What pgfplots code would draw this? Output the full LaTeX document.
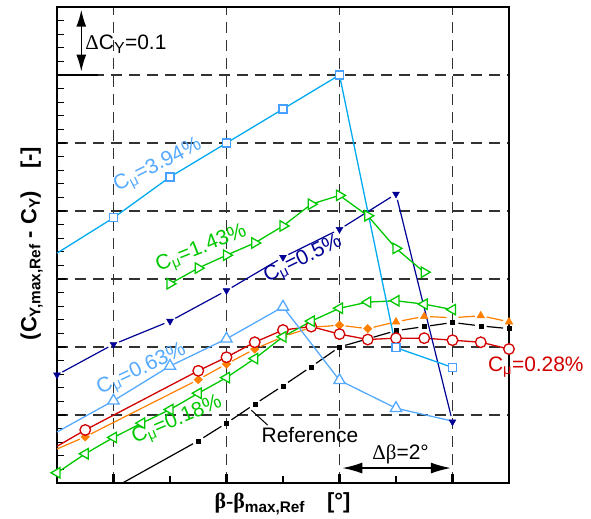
\documentclass[border=0pt]{standalone}
\usepackage{pgfplots}
\pgfplotsset{compat=1.18}
\usepackage{fontspec}
\setmainfont{Liberation Sans}
\newfontfamily\symf{Liberation Serif}
\usetikzlibrary{arrows.meta}
\definecolor{cblue}{RGB}{0,170,240}
\definecolor{cbluem}{RGB}{70,160,255}
\definecolor{lblue}{RGB}{85,170,255}
\definecolor{cgreen}{RGB}{0,200,0}
\definecolor{cnavy}{RGB}{0,0,150}
\definecolor{cred}{RGB}{210,0,0}
\definecolor{corange}{RGB}{255,128,0}
\definecolor{cgrid}{RGB}{50,50,50}
\newcommand{\lbl}{\fontsize{21}{25}\selectfont}
\newcommand{\axl}{\fontsize{22}{26}\selectfont\bfseries}
\newcommand{\sub}[1]{\textsubscript{#1}}
\newcommand{\seg}[3]{\addplot[#1] coordinates {#2 #3};}
\begin{document}
\begin{tikzpicture}
\begin{axis}[
  at={(0,0)}, anchor=south west,
  scale only axis, width=452bp, height=476bp,
  xmin=-5, xmax=3, ymin=0, ymax=0.7,
  xtick={-4,-2,0,2}, minor xtick={-3,-1,1},
  ytick={0,0.1,...,0.7}, minor y tick num=4,
  xticklabels={}, yticklabels={},
  tick pos=left, tick align=inside,
  clip=false,
  axis line style={line width=2.2bp},
  grid=major,
  major grid style={cgrid, line width=1.1bp, dash pattern=on 11bp off 7bp},
  major tick length=9bp, minor tick length=7bp,
  major tick style={black, line width=2.2bp},
  minor tick style={black, line width=1.3bp},
  gapk/.style={line width=1.2bp, shorten <=6bp, shorten >=6bp},
]
% Reference (black)
\addplot[black, line width=1.2bp, shorten >=6bp] coordinates {(-3.84,0) (-2.5,0.062)};
\seg{black,gapk}{(-2.5,0.062)}{(-2,0.088)}
\seg{black,gapk}{(-2,0.088)}{(-1.5,0.116)}
\seg{black,gapk}{(-1.5,0.116)}{(-1,0.143)}
\seg{black,gapk}{(-1,0.143)}{(-0.5,0.171)}
\seg{black,gapk}{(-0.5,0.171)}{(0,0.200)}
\seg{black,gapk}{(0,0.200)}{(0.5,0.212)}
\seg{black,gapk}{(0.5,0.212)}{(1,0.224)}
\seg{black,gapk}{(1,0.224)}{(1.5,0.230)}
\seg{black,gapk}{(1.5,0.230)}{(2,0.236)}
\seg{black,gapk}{(2,0.236)}{(2.5,0.231)}
\seg{black,gapk}{(2.5,0.231)}{(3,0.227)}
\addplot[only marks, mark=square*, mark size=2bp, black] coordinates {
 (-2.5,0.062) (-2,0.088) (-1.5,0.116) (-1,0.143) (-0.5,0.171) (0,0.200) (0.5,0.212) (1,0.224) (1.5,0.230) (2,0.236) (2.5,0.231) (3,0.227)};
% orange
\addplot[corange, line width=1.2bp, shorten >=6bp] coordinates {(-5,0.050) (-4.5,0.068)};
\seg{corange,gapk}{(-4.5,0.068)}{(-2.5,0.152)}
\seg{corange,gapk}{(-2.5,0.152)}{(-2,0.175)}
\seg{corange,gapk}{(-2,0.175)}{(-1.5,0.197)}
\seg{corange,gapk}{(-1.5,0.197)}{(-1,0.215)}
\seg{corange,gapk}{(-1,0.215)}{(-0.5,0.229)}
\seg{corange,gapk}{(-0.5,0.229)}{(0,0.232)}
\seg{corange,gapk}{(0,0.232)}{(0.5,0.227)}
\seg{corange,gapk}{(0.5,0.227)}{(1,0.237)}
\seg{corange,gapk}{(1,0.237)}{(1.5,0.245)}
\seg{corange,gapk}{(1.5,0.245)}{(2,0.243)}
\seg{corange,gapk}{(2,0.243)}{(2.5,0.246)}
\seg{corange,gapk}{(2.5,0.246)}{(3,0.237)}
\addplot[only marks, mark=square*, mark size=3bp, mark options={rotate=45}, corange] coordinates {
 (-4.5,0.068) (-2.5,0.152) (-2,0.175) (-1.5,0.197) (-1,0.215) (-0.5,0.229) (0,0.232) (0.5,0.227)};
\addplot[only marks, mark=triangle*, mark size=4.5bp, corange] coordinates {
 (1,0.237) (1.5,0.245) (2.5,0.246) (3,0.237)};
% red 0.28
\addplot[cred, line width=1.3bp, mark=*, mark size=5.3bp, mark options={fill=white, line width=1.3bp}, mark indices={2,3,4,5,6,7,8,9,10,11,12,13,14}] coordinates {
 (-5,0.054) (-4.5,0.078) (-2.5,0.165) (-2,0.185) (-1.5,0.207) (-1,0.225) (-0.5,0.230) (0,0.219) (0.5,0.211) (1,0.213) (1.5,0.213) (2,0.210) (2.5,0.207) (3,0.197)};
% green 0.18
\addplot[cgreen, line width=1.3bp, mark=triangle*, mark size=6bp, mark options={rotate=90, fill=white, line width=1.3bp}] coordinates {
 (-5,0.015) (-4.5,0.043) (-4,0.067) (-3.5,0.088) (-3,0.108) (-2.5,0.132) (-2,0.155) (-1.5,0.183) (-1,0.215) (-0.5,0.238) (0,0.257) (0.5,0.266) (1,0.268) (1.5,0.263) (2,0.255)};
% light blue 0.63
\addplot[lblue, line width=1.3bp, mark=triangle*, mark size=6.5bp, mark options={fill=white, line width=1.3bp}, mark indices={2,3,4,5,6,7}] coordinates {
 (-5,0.075) (-4,0.121) (-3,0.172) (-2,0.212) (-1,0.259) (0,0.151) (1,0.110) (2,0.091)};
% navy 0.5
\seg{cnavy,gapk}{(-5,0.159)}{(-4,0.204)}
\seg{cnavy,gapk}{(-4,0.204)}{(-3,0.238)}
\seg{cnavy,gapk}{(-3,0.238)}{(-2,0.283)}
\seg{cnavy,gapk}{(-2,0.283)}{(-1,0.332)}
\seg{cnavy,gapk}{(-1,0.332)}{(0,0.373)}
\seg{cnavy,gapk}{(0,0.373)}{(1,0.425)}
\seg{cnavy,gapk}{(1,0.425)}{(2,0.090)}
\addplot[only marks, mark=triangle*, mark size=4bp, mark options={rotate=180}, cnavy] coordinates {
 (-5,0.159) (-4,0.204) (-3,0.238) (-2,0.283) (-1,0.332) (0,0.373) (1,0.425) (2,0.090)};
% green 1.43
\addplot[cgreen, line width=1.3bp, mark=triangle*, mark size=6bp, mark options={rotate=-90, fill=white, line width=1.3bp}] coordinates {
 (-3,0.293) (-2.5,0.316) (-2,0.335) (-1.5,0.353) (-1,0.378) (-0.5,0.410) (0,0.423) (0.5,0.393) (1,0.345) (1.5,0.310)};
% blue 3.94
\addplot[cblue, line width=1.3bp, mark=square*, mark size=4bp, mark options={fill=white, draw=cbluem, line width=1.3bp}, mark indices={2,3,4,5,6,7,8}] coordinates {
 (-5,0.338) (-4,0.390) (-3,0.450) (-2,0.500) (-1,0.550) (0,0.600) (1,0.199) (2,0.170)};
% annotations
\draw[black, line width=2.5bp] (axis cs:-5,0.6) -- (axis cs:-4.28,0.6);
\draw[black, line width=1.5bp, {Latex[length=17bp,width=10bp]}-{Latex[length=17bp,width=10bp]}] (axis cs:-4.57,0.696) -- (axis cs:-4.57,0.605);
\node[anchor=base west, inner sep=0pt] at (axis cs:-4.50,0.637) {\lbl{\symf Δ}C\textsubscript{\fontsize{16}{18}\selectfont Y}=0.1};
\draw[black, line width=1.5bp, {Latex[length=20bp,width=11bp]}-{Latex[length=20bp,width=11bp]}] (axis cs:0.05,0.022) -- (axis cs:1.97,0.022);
\node[anchor=base west, inner sep=0pt] at (axis cs:0.58,0.034) {\lbl{\symf Δβ}=2°};
\draw[black, line width=1bp] (axis cs:-1.56,0.107) -- (axis cs:-1.27,0.085);
\node[anchor=base west, inner sep=0pt] at (axis cs:-1.38,0.059) {\lbl Reference};
\node[anchor=base west, inner sep=0pt, text=cred] at (axis cs:2.625,0.164) {\lbl C\sub{μ}=0.28\%};
\node[rotate=27, inner sep=0pt, text=lblue] at (axis cs:-3.21,0.466) {\lbl C\sub{μ}=3.94\%};
\node[rotate=22, inner sep=0pt, text=cgreen] at (axis cs:-2.44,0.344) {\lbl C\sub{μ}=1.43\%};
\node[rotate=26, inner sep=0pt, text=cnavy] at (axis cs:-0.64,0.328) {\lbl C\sub{μ}=0.5\%};
\node[rotate=25, inner sep=0pt, text=lblue] at (axis cs:-3.50,0.166) {\lbl C\sub{μ}=0.63\%};
\node[rotate=23, inner sep=0pt, text=cgreen] at (axis cs:-2.87,0.091) {\lbl C\sub{μ}=0.18\%};
\node[anchor=base, inner sep=0pt] at (axis cs:-1.01,-0.038) {\axl{\symf β-β}\sub{max,Ref}\quad[°]};
\node[anchor=base, inner sep=0pt, rotate=90] at (axis cs:-5.363,0.352) {\axl (C\sub{Y,max,Ref} - C\sub{Y})\quad[-]};
\end{axis}
\pgfresetboundingbox
\path[use as bounding box] (-57bp,-36bp) rectangle (534bp,483bp);
\end{tikzpicture}
\end{document}
